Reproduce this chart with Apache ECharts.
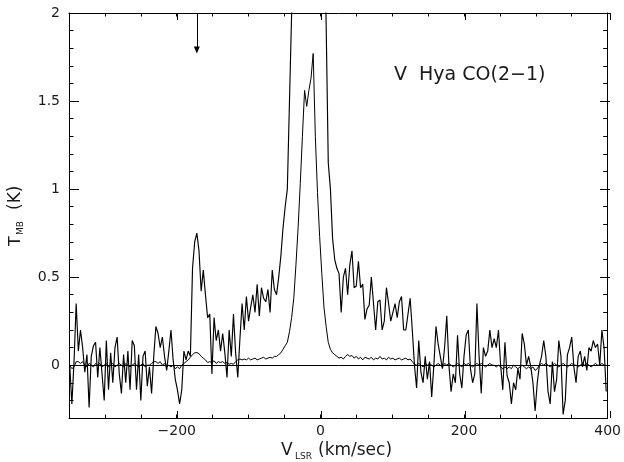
<!DOCTYPE html>
<html>
<head>
<meta charset="utf-8">
<script src="https://cdn.jsdelivr.net/npm/echarts@6/dist/echarts.min.js"></script>
<style>
html,body{margin:0;padding:0;background:#fff;}
#chart{width:624px;height:462px;}
</style>
</head>
<body>
<div id="chart"></div>
<script>
// Velocity channels: first channel and channel width (km/s)
const V0 = -349;
const DV = 3;

// Broad (noisy) spectrum, T_MB in K, one value per channel (rows of 10)
const broadT = [
  0.0, -0.22, 0.02, 0.35, 0.08, 0.2, 0.1, -0.04, 0.06, -0.24,      // -349 .. -322
  0.05, 0.11, 0.13, -0.07, 0.1, -0.05, -0.2, 0.14, -0.14, 0.07,    // -319 .. -292
  -0.1, 0.1, 0.16, -0.05, -0.16, 0.06, -0.1, 0.08, -0.14, 0.14,    // -289 .. -262
  0.11, -0.14, 0.06, -0.2, 0.05, 0.08, -0.12, -0.01, -0.16, 0.05,  // -259 .. -232
  0.22, 0.18, 0.1, 0.16, 0.05, -0.03, 0.08, 0.2, 0.03, -0.08,      // -229 .. -202
  -0.14, -0.22, -0.14, 0.08, 0.03, 0.08, 0.05, 0.55, 0.7, 0.75,    // -199 .. -172
  0.65, 0.42, 0.54, 0.4, 0.27, 0.29, -0.05, 0.27, 0.14, 0.2,       // -169 .. -142
  0.08, 0.18, 0.07, -0.07, 0.2, 0.05, 0.29, 0.07, -0.07, 0.15,     // -139 .. -112
  0.35, 0.2, 0.39, 0.25, 0.33, 0.4, 0.3, 0.46, 0.28, 0.44,         // -109 .. -82
  0.38, 0.36, 0.43, 0.3, 0.54, 0.43, 0.4, 0.5, 0.62, 0.78,         // -79 .. -52
  0.9, 1.0, 1.5, 2.0, 2.5, 3.0, 3.5, 4.0, 4.1, 4.2,                // -49 .. -22
  4.2, 4.2, 4.2, 4.1, 4.0, 3.9, 3.8, 3.49, 2.72, 1.95,             // -19 .. 8
  1.15, 1.0, 0.72, 0.6, 0.55, 0.52, 0.3, 0.5, 0.55, 0.4,           // 11 .. 38
  0.57, 0.65, 0.44, 0.45, 0.59, 0.44, 0.46, 0.26, 0.32, 0.34,      // 41 .. 68
  0.5, 0.35, 0.2, 0.36, 0.37, 0.2, 0.25, 0.44, 0.35, 0.25,         // 71 .. 98
  0.3, 0.35, 0.27, 0.36, 0.39, 0.2, 0.2, 0.29, 0.38, 0.2,          // 101 .. 128
  0.0, -0.13, 0.14, -0.04, -0.1, 0.05, -0.08, 0.02, -0.18, 0.0,    // 131 .. 158
  0.22, 0.12, 0.05, -0.02, 0.1, 0.28, 0.0, -0.15, -0.05, -0.1,     // 161 .. 188
  0.17, -0.05, -0.13, 0.05, 0.17, 0.2, -0.02, -0.1, -0.05, 0.35,   // 191 .. 218
  0.05, -0.16, 0.1, 0.05, 0.08, 0.2, 0.1, 0.15, 0.1, 0.2,          // 221 .. 248
  0.0, -0.14, 0.13, -0.06, -0.1, -0.22, -0.1, -0.14, -0.02, -0.08, // 251 .. 278
  0.18, 0.12, 0.0, 0.05, -0.01, -0.1, -0.26, -0.1, 0.0, 0.05,      // 281 .. 308
  0.14, 0.05, -0.15, -0.22, 0.02, -0.15, -0.08, 0.14, 0.05, -0.28, // 311 .. 338
  -0.2, 0.06, 0.1, 0.16, -0.01, -0.1, 0.05, 0.08, -0.01, 0.05,     // 341 .. 368
  -0.03, 0.1, 0.08, 0.14, 0.1, 0.12, 0.0, 0.2, 0.1, -0.15          // 371 .. 398
];

// Narrow (smooth) spectrum, T_MB in K, same channels
const narrowT = [
  0.0, -0.02, -0.01, 0.02, 0.02, 0.01, 0.02, 0.0, -0.01, 0.01,
  0.0, -0.01, 0.01, 0.0, 0.01, -0.01, 0.0, 0.01, -0.01, 0.0,
  0.01, -0.01, 0.0, 0.01, 0.0, -0.01, 0.01, 0.0, -0.01, 0.0,
  0.01, 0.0, -0.01, 0.0, 0.01, -0.01, 0.0, 0.0, 0.01, 0.02,
  0.02, 0.01, 0.02, 0.0, 0.01, -0.01, 0.0, -0.01, 0.0, -0.02,
  -0.01, -0.02, 0.0, 0.01, 0.02, 0.03, 0.045, 0.06, 0.07, 0.072,
  0.065, 0.05, 0.04, 0.03, 0.015, 0.02, 0.015, 0.025, 0.01, 0.02,
  0.015, 0.02, 0.01, 0.015, 0.005, 0.01, 0.005, 0.02, 0.03, 0.035,
  0.03, 0.035, 0.03, 0.04, 0.03, 0.035, 0.04, 0.03, 0.035, 0.04,
  0.045, 0.035, 0.04, 0.045, 0.04, 0.05, 0.05, 0.06, 0.07, 0.09,
  0.11, 0.13, 0.19, 0.27, 0.38, 0.57, 0.78, 1.03, 1.3, 1.56,
  1.47, 1.56, 1.63, 1.77, 1.3, 0.98, 0.73, 0.52, 0.33, 0.22,
  0.13, 0.09, 0.07, 0.06, 0.05, 0.04, 0.045, 0.035, 0.05, 0.06,
  0.05, 0.055, 0.04, 0.05, 0.035, 0.045, 0.03, 0.045, 0.04, 0.035,
  0.045, 0.03, 0.04, 0.035, 0.05, 0.035, 0.04, 0.03, 0.045, 0.035,
  0.04, 0.03, 0.035, 0.04, 0.03, 0.035, 0.04, 0.03, 0.035, 0.02,
  0.005, 0.0, 0.01, 0.0, -0.01, 0.01, 0.0, 0.01, 0.0, -0.01,
  0.0, 0.01, 0.0, -0.01, 0.01, 0.0, 0.01, 0.0, -0.01, 0.0,
  0.01, 0.0, -0.01, 0.01, 0.0, 0.01, 0.0, -0.01, 0.0, 0.01,
  0.0, 0.01, 0.0, -0.01, 0.0, 0.01, 0.0, 0.0, -0.01, 0.0,
  -0.01, -0.02, -0.01, -0.02, -0.01, -0.02, 0.0, -0.01, -0.02, -0.01,
  0.0, -0.01, -0.02, -0.01, -0.02, -0.01, -0.03, -0.02, 0.0, 0.01,
  0.0, 0.01, 0.0, -0.01, 0.0, 0.01, 0.0, -0.01, 0.0, 0.01,
  0.0, -0.01, 0.0, 0.01, 0.0, 0.0, -0.01, 0.0, 0.01, 0.0,
  0.01, 0.0, -0.01, 0.0, 0.01, 0.0, 0.0, 0.01, 0.0, 0.0
];

// Axes
const xMin = -350, xMax = 400, xMinorStep = 50;
const xMajorTicks = [-200, 0, 200, 400];
const yMin = -0.3, yMax = 2, yMinorStep = 0.1;
const yMajorTicks = [0, 0.5, 1, 1.5, 2];

// Annotations
const arrowV = -172;
const arrowFrom = 2.0;
const arrowTo = 1.79;
const lineLabel = 'V  Hya CO(2\u22121)';

const FONT = 'DejaVu Sans';
const TXT = '#1a1a1a';

function toPairs(arr) { return arr.map((t, i) => [V0 + i * DV, t]); }
function fmtX(v) {
  if (xMajorTicks.indexOf(v) < 0) return '';
  return v < 0 ? '\u2212' + Math.abs(v) : String(v);
}
function fmtY(v) {
  for (const t of yMajorTicks) if (Math.abs(v - t) < 1e-6) return String(t);
  return '';
}

const chart = echarts.init(document.getElementById('chart'), null, {renderer: 'canvas'});
const gridBox = {left: 69, right: 14, top: 13, bottom: 44};
const axLine = {show: true, onZero: false, lineStyle: {color: '#000', width: 1}};
const noLine = {show: false, onZero: false};

const option = {
  animation: false,
  backgroundColor: '#fff',
  grid: [Object.assign({}, gridBox), Object.assign({}, gridBox)],
  xAxis: [
    {gridIndex: 0, type: 'value', position: 'bottom', min: xMin, max: xMax, interval: xMinorStep,
     axisLine: axLine, axisTick: {inside: true, length: 3.5, lineStyle: {color: '#000'}},
     axisLabel: {formatter: fmtX, margin: 6, fontSize: 14, fontFamily: FONT, color: TXT, showMinLabel: true, showMaxLabel: true},
     splitLine: {show: false}},
    {gridIndex: 0, type: 'value', position: 'top', min: xMin, max: xMax, interval: xMinorStep,
     axisLine: axLine, axisTick: {inside: true, length: 3.5, lineStyle: {color: '#000'}},
     axisLabel: {show: false}, splitLine: {show: false}},
    {gridIndex: 1, type: 'value', position: 'bottom', min: xMin, max: xMax,
     axisLine: noLine, axisTick: {inside: true, length: 7, customValues: xMajorTicks, lineStyle: {color: '#000'}},
     axisLabel: {show: false}, splitLine: {show: false}},
    {gridIndex: 1, type: 'value', position: 'top', min: xMin, max: xMax,
     axisLine: noLine, axisTick: {inside: true, length: 7, customValues: xMajorTicks, lineStyle: {color: '#000'}},
     axisLabel: {show: false}, splitLine: {show: false}}
  ],
  yAxis: [
    {gridIndex: 0, type: 'value', position: 'left', min: yMin, max: yMax, interval: yMinorStep,
     axisLine: axLine, axisTick: {inside: true, length: 4.5, lineStyle: {color: '#000'}},
     axisLabel: {formatter: fmtY, margin: 9, fontSize: 14, fontFamily: FONT, color: TXT},
     splitLine: {show: false}},
    {gridIndex: 0, type: 'value', position: 'right', min: yMin, max: yMax, interval: yMinorStep,
     axisLine: axLine, axisTick: {inside: true, length: 4.5, lineStyle: {color: '#000'}},
     axisLabel: {show: false}, splitLine: {show: false}},
    {gridIndex: 1, type: 'value', position: 'left', min: yMin, max: yMax,
     axisLine: noLine, axisTick: {inside: true, length: 10, customValues: yMajorTicks, lineStyle: {color: '#000'}},
     axisLabel: {show: false}, splitLine: {show: false}},
    {gridIndex: 1, type: 'value', position: 'right', min: yMin, max: yMax,
     axisLine: noLine, axisTick: {inside: true, length: 10, customValues: yMajorTicks, lineStyle: {color: '#000'}},
     axisLabel: {show: false}, splitLine: {show: false}}
  ],
  series: [
    {
      type: 'line', xAxisIndex: 0, yAxisIndex: 0, data: toPairs(narrowT),
      showSymbol: false, clip: true, silent: true,
      lineStyle: {color: '#000', width: 1},
      markLine: {
        silent: true, symbol: ['none', 'none'], label: {show: false},
        lineStyle: {color: '#000', width: 1, type: 'solid'},
        data: [{yAxis: 0}]
      }
    },
    {
      type: 'line', xAxisIndex: 0, yAxisIndex: 0, data: toPairs(broadT),
      showSymbol: false, clip: true, silent: true,
      lineStyle: {color: '#000', width: 1.15},
      markLine: {
        silent: true, symbol: ['none', 'triangle'], symbolSize: [6, 7], label: {show: false},
        lineStyle: {color: '#000', width: 1, type: 'solid'},
        data: [[{coord: [arrowV, arrowFrom]}, {coord: [arrowV, arrowTo]}]]
      }
    }
  ],
  graphic: [
    {type: 'text', left: 394, top: 66, silent: true,
     style: {text: lineLabel, fontSize: 19, fontFamily: FONT, fill: TXT}},
    // x-axis title: V_LSR (km/sec)
    {type: 'group', x: 281, y: 451, silent: true, children: [
      {type: 'text', x: 0, y: 0, style: {text: 'V', fontSize: 17, fontFamily: FONT, fill: TXT, verticalAlign: 'middle', align: 'left'}},
      {type: 'text', x: 14, y: 6, style: {text: 'LSR', fontSize: 9, fontFamily: FONT, fill: TXT, verticalAlign: 'middle', align: 'left'}},
      {type: 'text', x: 37, y: 0, style: {text: '(km/sec)', fontSize: 17, fontFamily: FONT, fill: TXT, verticalAlign: 'middle', align: 'left'}}
    ]},
    // y-axis title: T_MB (K)
    {type: 'group', x: 16, y: 246, rotation: Math.PI / 2, silent: true, children: [
      {type: 'text', x: 0, y: 0, style: {text: 'T', fontSize: 16, fontFamily: FONT, fill: TXT, verticalAlign: 'middle', align: 'left'}},
      {type: 'text', x: 11, y: 5, style: {text: 'MB', fontSize: 9, fontFamily: FONT, fill: TXT, verticalAlign: 'middle', align: 'left'}},
      {type: 'text', x: 36, y: 0, style: {text: '(K)', fontSize: 17, fontFamily: FONT, fill: TXT, verticalAlign: 'middle', align: 'left'}}
    ]}
  ]
};
chart.setOption(option);
</script>
</body>
</html>
